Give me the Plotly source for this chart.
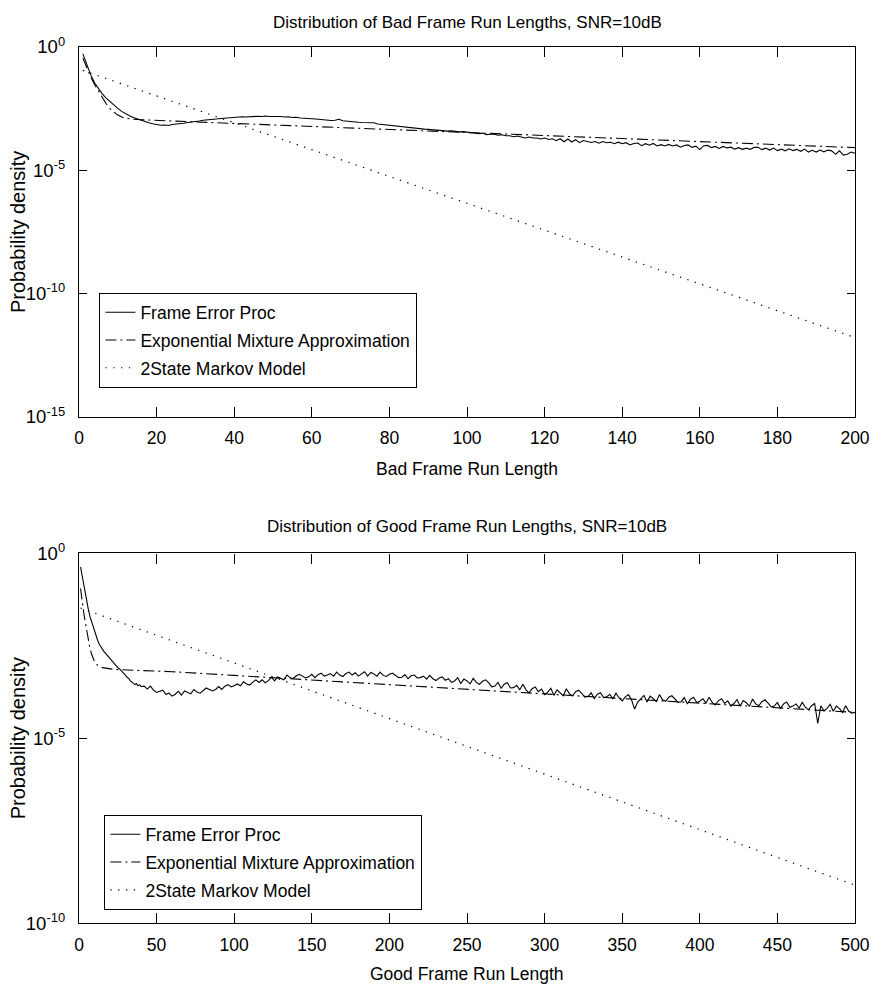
import plotly.graph_objects as go

# ---------------------------------------------------------------- data
# Values are stored as log10 of the probability density.

# Bad frame run lengths (1..200), measured frame-error process
bad_x = list(range(1, 201))
bad_emp_log10 = [
    -0.28, -0.72, -1.12, -1.45, -1.70, -1.90, -2.07, -2.22, -2.36, -2.49,
    -2.61, -2.71, -2.79, -2.86, -2.92, -2.97, -3.02, -3.07, -3.11, -3.15,
    -3.17, -3.16, -3.18, -3.14, -3.13, -3.10, -3.09, -3.06, -3.05, -3.01,
    -3.00, -2.97, -2.95, -2.94, -2.92, -2.91, -2.89, -2.88, -2.87, -2.85,
    -2.85, -2.83, -2.84, -2.82, -2.83, -2.81, -2.82, -2.80, -2.82, -2.81,
    -2.83, -2.82, -2.84, -2.83, -2.86, -2.85, -2.88, -2.88, -2.90, -2.91,
    -2.92, -2.94, -2.96, -2.95, -2.98, -2.97, -2.93, -2.99, -3.01, -3.02,
    -3.03, -3.05, -3.06, -3.07, -3.09, -3.07, -3.12, -3.14, -3.16, -3.18,
    -3.19, -3.21, -3.23, -3.25, -3.27, -3.28, -3.30, -3.31, -3.33, -3.34,
    -3.36, -3.37, -3.39, -3.40, -3.41, -3.40, -3.43, -3.44, -3.43, -3.46,
    -3.47, -3.48, -3.51, -3.49, -3.55, -3.54, -3.54, -3.58, -3.56, -3.60,
    -3.60, -3.64, -3.61, -3.65, -3.69, -3.65, -3.69, -3.69, -3.73, -3.69,
    -3.75, -3.72, -3.80, -3.72, -3.84, -3.73, -3.85, -3.76, -3.88, -3.79,
    -3.83, -3.87, -3.83, -3.90, -3.83, -3.88, -3.86, -3.92, -3.86, -3.92,
    -3.88, -3.97, -3.91, -3.89, -4.00, -3.92, -3.98, -3.91, -4.01, -3.96,
    -4.01, -3.95, -4.01, -3.97, -4.06, -3.99, -3.97, -4.07, -4.02, -4.16,
    -4.00, -3.99, -4.08, -4.03, -4.11, -4.03, -4.09, -4.06, -4.14, -4.08,
    -4.15, -4.10, -4.15, -4.07, -4.07, -4.16, -4.10, -4.18, -4.10, -4.20,
    -4.14, -4.21, -4.13, -4.20, -4.15, -4.23, -4.14, -4.26, -4.19, -4.26,
    -4.18, -4.25, -4.18, -4.21, -4.35, -4.21, -4.38, -4.35, -4.26, -4.31,
]

# Bad frames: exponential mixture approximation
bad_mix_x = [1, 2, 3, 4, 5, 6, 7, 8, 9, 10, 11, 12, 14, 16, 50, 100, 150, 200]
bad_mix_log10 = [-0.45, -0.85, -1.20, -1.52, -1.80, -2.05, -2.30, -2.50, -2.65,
                 -2.76, -2.84, -2.89, -2.93, -2.95, -3.16, -3.47, -3.77, -4.08]

# Bad frames: two-state Markov model (geometric, straight on a log axis)
bad_mkv_x = [1, 200]
bad_mkv_log10 = [-0.95, -11.78]

# Good frame run lengths, measured frame-error process
good_x = list(range(1, 41)) + list(range(42, 501, 2))
good_emp_log10 = [
    -0.37, -0.62, -0.85, -1.08, -1.30, -1.51, -1.70, -1.83, -1.99, -2.13,
    -2.24, -2.35, -2.45, -2.53, -2.60, -2.65, -2.70, -2.75, -2.80, -2.85,
    -2.90, -2.96, -3.01, -3.05, -3.09, -3.12, -3.16, -3.21, -3.24, -3.30,
    -3.35, -3.38, -3.44, -3.47, -3.52, -3.55, -3.52, -3.58, -3.55, -3.60,
    # 42 .. 500, step 2
    -3.59, -3.67, -3.59, -3.70, -3.76, -3.72, -3.70, -3.81, -3.78, -3.86,
    -3.81, -3.73, -3.83, -3.72, -3.76, -3.80, -3.68, -3.75, -3.78, -3.70,
    -3.64, -3.68, -3.72, -3.68, -3.60, -3.68, -3.59, -3.55, -3.61, -3.58,
    -3.53, -3.58, -3.47, -3.53, -3.56, -3.48, -3.42, -3.49, -3.42, -3.50,
    -3.44, -3.35, -3.45, -3.34, -3.37, -3.42, -3.29, -3.36, -3.39, -3.31,
    -3.27, -3.32, -3.37, -3.34, -3.27, -3.36, -3.28, -3.24, -3.32, -3.29,
    -3.25, -3.32, -3.21, -3.29, -3.33, -3.25, -3.21, -3.29, -3.23, -3.32,
    -3.27, -3.20, -3.32, -3.22, -3.26, -3.32, -3.21, -3.30, -3.33, -3.27,
    -3.24, -3.30, -3.36, -3.35, -3.28, -3.39, -3.31, -3.29, -3.37, -3.36,
    -3.32, -3.40, -3.30, -3.39, -3.44, -3.37, -3.34, -3.43, -3.39, -3.49,
    -3.45, -3.36, -3.52, -3.40, -3.45, -3.53, -3.38, -3.49, -3.54, -3.46,
    -3.42, -3.50, -3.61, -3.59, -3.49, -3.65, -3.54, -3.50, -3.64, -3.63,
    -3.57, -3.69, -3.54, -3.69, -3.77, -3.66, -3.61, -3.74, -3.67, -3.82,
    -3.75, -3.65, -3.84, -3.69, -3.76, -3.85, -3.66, -3.80, -3.85, -3.74,
    -3.70, -3.79, -3.89, -3.87, -3.77, -3.93, -3.81, -3.77, -3.90, -3.88,
    -3.81, -3.93, -3.78, -3.91, -3.99, -3.88, -3.82, -3.96, -4.21, -4.02,
    -3.94, -3.84, -4.02, -3.86, -3.93, -4.01, -3.82, -3.96, -4.00, -3.89,
    -3.85, -3.93, -4.03, -4.01, -3.90, -4.07, -3.94, -3.89, -4.03, -4.00,
    -3.93, -4.05, -3.89, -4.03, -4.10, -3.98, -3.93, -4.06, -3.99, -4.13,
    -4.06, -3.95, -4.13, -3.98, -4.04, -4.13, -3.94, -4.07, -4.12, -4.01,
    -3.96, -4.05, -4.15, -4.13, -4.03, -4.19, -4.07, -4.02, -4.16, -4.13,
    -4.07, -4.18, -4.03, -4.16, -4.23, -4.12, -4.06, -4.60, -4.12, -4.26,
    -4.19, -4.08, -4.27, -4.13, -4.20, -4.30, -4.12, -4.27, -4.32, -4.30,
]

# Good frames: exponential mixture approximation
good_mix_x = [1, 2, 3, 4, 5, 6, 7, 8, 9, 10, 12, 15, 23, 60, 100, 200, 300, 400, 500]
good_mix_log10 = [-0.95, -1.33, -1.59, -1.85, -2.10, -2.34, -2.55, -2.71, -2.84,
                  -2.93, -3.03, -3.09, -3.14, -3.20, -3.30, -3.55, -3.80, -4.05, -4.30]

# Good frames: two-state Markov model
good_mkv_x = [1, 500]
good_mkv_log10 = [-1.48, -8.97]

series_names = ["Frame Error Proc", "Exponential Mixture Approximation", "2State Markov Model"]

titles = ["Distribution of Bad Frame Run Lengths, SNR=10dB",
          "Distribution of Good Frame Run Lengths, SNR=10dB"]
x_titles = ["Bad Frame Run Length", "Good Frame Run Length"]
y_title = "Probability density"

bad_yticks = [1e-15, 1e-10, 1e-5, 1]
bad_yticktext = ["10<sup>-15</sup>", "10<sup>-10</sup>", "10<sup>-5</sup>", "10<sup>0</sup>"]
good_yticks = [1e-10, 1e-5, 1]
good_yticktext = ["10<sup>-10</sup>", "10<sup>-5</sup>", "10<sup>0</sup>"]


def lin(vals):
    return [10 ** v for v in vals]


# ---------------------------------------------------------------- layout
W, H = 876, 992
SANS = "Liberation Sans, Arial, Helvetica, sans-serif"

px_left, px_right = 79, 855
top_box = (47, 417)
bot_box = (553.3, 923.3)


def fx(px):
    return px / W


def fy(py):
    return 1 - py / H


fig = go.Figure()

line_styles = [
    dict(color="black", width=1.1),
    dict(color="black", width=1.1, dash="11px,4px,2px,4px"),
    dict(color="black", width=1.2, dash="1.3px,6.5px"),
]

groups = [
    ("x", "y", "legend", "b", [(bad_x, bad_emp_log10), (bad_mix_x, bad_mix_log10), (bad_mkv_x, bad_mkv_log10)]),
    ("x2", "y2", "legend2", "g", [(good_x, good_emp_log10), (good_mix_x, good_mix_log10), (good_mkv_x, good_mkv_log10)]),
]
for xa, ya, lg, tag, sets in groups:
    for i, ((xs, ys), name, st) in enumerate(zip(sets, series_names, line_styles)):
        fig.add_trace(go.Scatter(x=xs, y=lin(ys), mode="lines", name=name,
                                 line=st, xaxis=xa, yaxis=ya, legend=lg,
                                 legendgroup=f"{tag}{i}"))

axis_common = dict(showline=True, linecolor="black", linewidth=1.4, mirror="ticks",
                   ticks="inside", tickcolor="black", tickwidth=1, showgrid=False,
                   zeroline=False, automargin=False)
xtickfont = dict(family=SANS, size=17.5, color="black")
ytickfont = dict(family=SANS, size=18.5, color="black")
legend_common = dict(xanchor="left", yanchor="top", bgcolor="white", bordercolor="black",
                     borderwidth=1.4, font=dict(family=SANS, size=17.5, color="black"),
                     itemwidth=30, tracegroupgap=2)

fig.update_layout(
    template="none",
    width=W, height=H, margin=dict(l=0, r=0, t=0, b=0, pad=0),
    paper_bgcolor="white", plot_bgcolor="white", showlegend=True,
    xaxis=dict(domain=[fx(px_left), fx(px_right)], anchor="y", range=[0, 200],
               tickvals=list(range(0, 201, 20)), ticklen=10, tickfont=xtickfont,
               ticklabelstandoff=5, **axis_common),
    yaxis=dict(domain=[fy(top_box[1]), fy(top_box[0])], anchor="x", type="log",
               range=[-15, 0], tickvals=bad_yticks, ticktext=bad_yticktext,
               ticklen=8, tickfont=ytickfont, ticklabelstandoff=9, **axis_common),
    xaxis2=dict(domain=[fx(px_left), fx(px_right)], anchor="y2", range=[0, 500],
                tickvals=list(range(0, 501, 50)), ticklen=10, tickfont=xtickfont,
                ticklabelstandoff=5, **axis_common),
    yaxis2=dict(domain=[fy(bot_box[1]), fy(bot_box[0])], anchor="x2", type="log",
                range=[-10, 0], tickvals=good_yticks, ticktext=good_yticktext,
                ticklen=8, tickfont=ytickfont, ticklabelstandoff=9, **axis_common),
    legend=dict(x=fx(99), y=fy(293), **legend_common),
    legend2=dict(x=fx(104), y=fy(815), **legend_common),
)

ann = []
for t, cy in zip(titles, [22, 526]):
    ann.append(dict(text=t, x=fx((px_left + px_right) / 2), y=fy(cy), xref="paper", yref="paper",
                    xanchor="center", yanchor="middle", showarrow=False,
                    font=dict(family=SANS, size=17, color="black")))
for t, cy in zip(x_titles, [469, 974]):
    ann.append(dict(text=t, x=fx((px_left + px_right) / 2), y=fy(cy), xref="paper", yref="paper",
                    xanchor="center", yanchor="middle", showarrow=False,
                    font=dict(family=SANS, size=17.5, color="black")))
for box in (top_box, bot_box):
    ann.append(dict(text=y_title, x=fx(18), y=fy((box[0] + box[1]) / 2), xref="paper",
                    yref="paper", xanchor="center", yanchor="middle", textangle=-90,
                    showarrow=False, font=dict(family=SANS, size=20, color="black")))
fig.update_layout(annotations=ann)

fig.write_html("out.html")
